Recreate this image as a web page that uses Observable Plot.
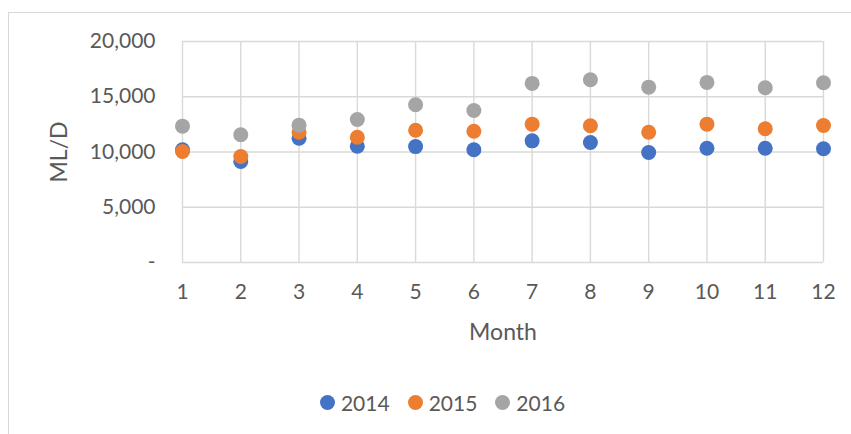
<!DOCTYPE html>
<html>
<head>
<meta charset="utf-8">
<script src="https://cdn.jsdelivr.net/npm/d3@7"></script>
<script src="https://cdn.jsdelivr.net/npm/@observablehq/plot@0.6"></script>
<style>
  html, body { margin: 0; padding: 0; background: #fff; }
  body { width: 851px; height: 434px; overflow: hidden; position: relative; font-family: Lato, "Open Sans", sans-serif; }
  #frame { position: absolute; left: 8px; top: 12px; width: 900px; height: 500px; border-left: 1.3px solid #D9D9D9; border-top: 1.3px solid #D9D9D9; pointer-events: none; }
  #chart { position: absolute; left: 0; top: 0; }
  #legend { position: absolute; left: 0; top: 380px; width: 817px; padding-left: 34px; height: 44px; display: flex; justify-content: center; align-items: center; font-size: 21px; color: #595959; }
  .item { display: flex; align-items: center; margin: 0 9px; }
  .sw { width: 15px; height: 15px; border-radius: 50%; margin-right: 6px; }
</style>
</head>
<body>
<div id="frame"></div>
<div id="chart"></div>
<div id="legend"></div>
<script>
const months = [1, 2, 3, 4, 5, 6, 7, 8, 9, 10, 11, 12];
const years = ["2014", "2015", "2016"];
const colors = ["#4472C4", "#ED7D31", "#A5A5A5"];
const v2014 = [10200, 9150, 11250, 10520, 10490, 10200, 11010, 10860, 9950, 10340, 10340, 10290];
const v2015 = [10040, 9590, 11790, 11340, 11970, 11880, 12520, 12370, 11790, 12520, 12100, 12400];
const v2016 = [12340, 11560, 12430, 12940, 14280, 13760, 16210, 16540, 15870, 16300, 15820, 16270];
const yTicks = [0, 5000, 10000, 15000, 20000];

const series = [v2014, v2015, v2016];
const data = [];
years.forEach((yr, i) => months.forEach((m, j) => data.push({year: yr, month: m, value: series[i][j]})));

const fmt = d3.format(",");
const chart = Plot.plot({
  width: 851,
  height: 380,
  marginLeft: 182,
  marginRight: 28,
  marginTop: 41,
  marginBottom: 118,
  style: {fontFamily: "Lato, 'Open Sans', sans-serif", fontSize: "21px", color: "#595959", background: "transparent", overflow: "visible"},
  x: {domain: [1, 12]},
  y: {domain: [0, 20000]},
  color: {domain: years, range: colors},
  marks: [
    Plot.gridX(months, {stroke: "#D9D9D9", strokeOpacity: 1, strokeWidth: 1.4}),
    Plot.gridY(yTicks, {stroke: "#D9D9D9", strokeOpacity: 1, strokeWidth: 1.4}),
    Plot.axisX({ticks: months, tickSize: 0, tickPadding: 22, tickFormat: d => String(d), fontSize: 21, fill: "#595959", label: "Month", labelAnchor: "center", labelArrow: "none", labelOffset: 77}),
    Plot.axisY({ticks: yTicks, tickSize: 0, tickPadding: 27, tickFormat: d => d === 0 ? "-" : fmt(d), fontSize: 21, fill: "#595959", label: "ML/D", labelAnchor: "center", labelArrow: "none", labelOffset: 132}),
    Plot.dot(data, {x: "month", y: "value", fill: "year", r: 7.5, stroke: null})
  ]
});
chart.querySelectorAll("g[aria-label$='axis label'] text").forEach(t => t.setAttribute("font-size", "23"));
document.getElementById("chart").appendChild(chart);

const legend = document.getElementById("legend");
years.forEach((yr, i) => {
  const it = document.createElement("div");
  it.className = "item";
  const sw = document.createElement("div");
  sw.className = "sw";
  sw.style.background = colors[i];
  const tx = document.createElement("span");
  tx.textContent = yr;
  it.appendChild(sw); it.appendChild(tx);
  legend.appendChild(it);
});
</script>
</body>
</html>
